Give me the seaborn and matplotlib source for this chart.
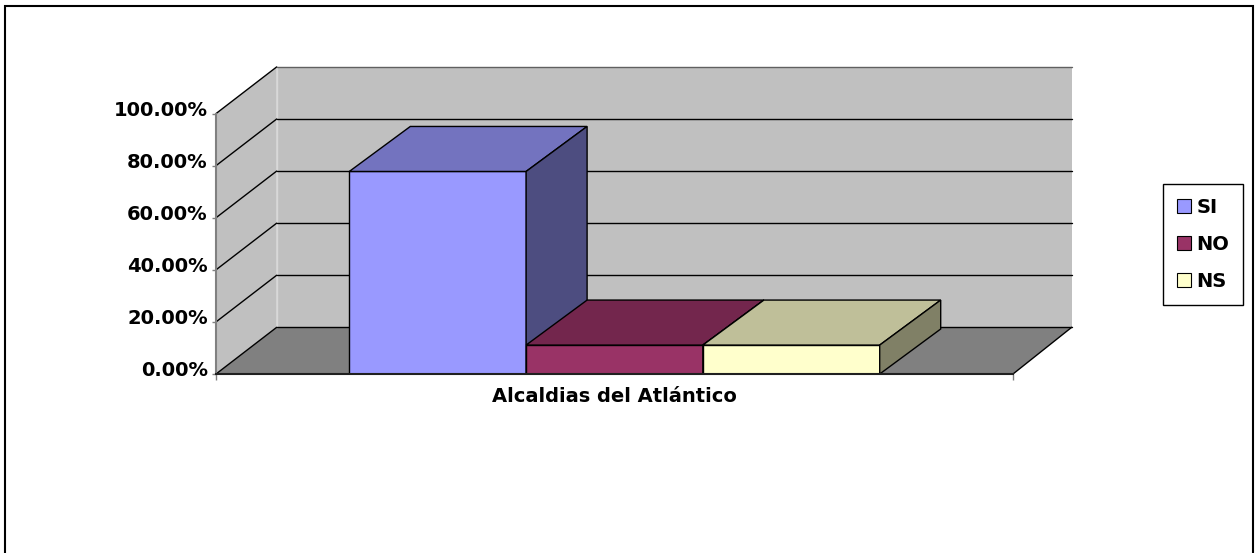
import matplotlib
matplotlib.use("Agg")
import numpy as np
import pandas as pd
import matplotlib.pyplot as plt
import matplotlib.patches as mpatches
from matplotlib.colors import to_rgb
from matplotlib.ticker import FixedLocator, PercentFormatter
from matplotlib.transforms import ScaledTranslation
import seaborn as sns

# ---- data -------------------------------------------------------------
category = ["Alcaldias del Atlántico"]
responses = ["SI", "NO", "NS"]
shares = [0.7778, 0.1111, 0.1111]
y_ticks = [0.0, 0.2, 0.4, 0.6, 0.8, 1.0]

face_colors = ["#9999FF", "#993366", "#FFFFCC"]

# ---- style ------------------------------------------------------------
sns.set_style("white")
plt.rcParams["font.family"] = ["DejaVu Sans"]
plt.rcParams["font.weight"] = "bold"
plt.rcParams["text.color"] = "black"
plt.rcParams["xtick.labelcolor"] = "black"
plt.rcParams["ytick.labelcolor"] = "black"
FS = 14

FIG_W, FIG_H, DPI = 1255, 553, 100
fig = plt.figure(figsize=(FIG_W / DPI, FIG_H / DPI), dpi=DPI)

# front plane of the 3-D box (pixels)
left_px, right_px, base_px, top_px = 216, 1013, 374, 113.6
ax = fig.add_axes([left_px / FIG_W, (FIG_H - base_px) / FIG_H,
                   (right_px - left_px) / FIG_W, (base_px - top_px) / FIG_H])
ax.set_facecolor("none")

df = pd.DataFrame({"cat": category * len(responses), "resp": responses, "val": shares})
sns.barplot(data=df, x="cat", y="val", hue="resp", hue_order=responses,
            palette=face_colors, saturation=1, width=0.6655,
            edgecolor="black", linewidth=1.0, legend=False, ax=ax)

# depth offsets, converted from pixels to data units
px_x = 1.0 / (right_px - left_px)
px_y = 1.0 / (base_px - top_px)
WDXL, WDXR, WDY = 60.7 * px_x, 58.7 * px_x, 46.7 * px_y   # walls and floor
BDX, BDY = 61.0 * px_x, 45.0 * px_y                      # bars
x0, x1 = -0.5, 0.5
bl, br = x0 + WDXL, x1 + WDXR     # back wall left / right edges


def poly(pts, fc, z, ec="none", lw=0.0):
    ax.add_patch(mpatches.Polygon(pts, closed=True, facecolor=fc, edgecolor=ec,
                                  linewidth=lw, zorder=z, clip_on=False,
                                  joinstyle="miter"))


def shade(rgb, k):
    return tuple(c * k for c in rgb)


# walls and floor
poly([(x0, 0), (bl, WDY), (bl, 1 + WDY), (x0, 1)], "#C0C0C0", 0.5)
poly([(bl, WDY), (br, WDY), (br, 1 + WDY), (bl, 1 + WDY)], "#C0C0C0", 0.5)
poly([(x0, 0), (x1, 0), (br, WDY), (bl, WDY)], "#808080", 0.6)
ax.plot([bl, bl], [WDY, 1 + WDY], color="#D8D8D8", lw=1, zorder=0.65, clip_on=False)

# gridlines on the left and back walls
for t in y_ticks:
    col = "#606060" if t == y_ticks[-1] else "black"
    ax.plot([x0, bl], [t, t + WDY], color="black", lw=1, zorder=0.7, clip_on=False)
    ax.plot([bl, br], [t + WDY, t + WDY], color=col, lw=1, zorder=0.7, clip_on=False)
ax.plot([x1, br], [0, WDY], color="black", lw=1, zorder=0.7, clip_on=False)

# top and side faces of each bar
for i, cont in enumerate(ax.containers):
    base = to_rgb(face_colors[i])
    for r in cont:
        bx, bw, bh = r.get_x(), r.get_width(), r.get_height()
        r.set_zorder(2 + i)
        top = [(bx, bh), (bx + bw, bh), (bx + bw + BDX, bh + BDY), (bx + BDX, bh + BDY)]
        side = [(bx + bw, 0), (bx + bw + BDX, BDY), (bx + bw + BDX, bh + BDY), (bx + bw, bh)]
        poly(top, shade(base, 0.75), 2 + i, "black", 1.0)
        poly(side, shade(base, 0.5), 2 + i, "black", 1.0)

# axes
ax.set_xlim(x0, x1)
ax.set_ylim(0, 1)
ax.set_xlabel("")
ax.set_ylabel("")
ax.yaxis.set_major_locator(FixedLocator(y_ticks))
ax.yaxis.set_major_formatter(PercentFormatter(1.0, decimals=2))
ax.set_xticks([0])
ax.set_xticklabels(category)
ax.set_xticks([x0, x1], minor=True)
ax.tick_params(axis="x", which="major", bottom=True, length=0, pad=9.5,
               labelsize=FS, labelcolor="black")
ax.tick_params(axis="x", which="minor", bottom=True, length=4.5, width=1,
               color="#808080", direction="out")
ax.tick_params(axis="y", which="major", left=True, length=3, width=1,
               color="#808080", direction="out", pad=3, labelsize=FS,
               labelcolor="black")
for s in ["top", "right"]:
    ax.spines[s].set_visible(False)
ax.spines["left"].set_color("#808080")
ax.spines["left"].set_linewidth(1.5)
ax.spines["bottom"].set_color("#202020")
ax.spines["bottom"].set_linewidth(1.5)
ax.spines["bottom"].set_zorder(10)

lift = ScaledTranslation(0, 5.5 / DPI, fig.dpi_scale_trans)
for tk in ax.yaxis.get_major_ticks():
    tk.label1.set_transform(tk.label1.get_transform() + lift)

# legend
handles = [mpatches.Patch(facecolor=c, edgecolor="black", linewidth=0.8) for c in face_colors]
leg = fig.legend(handles, responses, loc="upper left",
                 bbox_to_anchor=(1163 / FIG_W, 1 - 184 / FIG_H),
                 frameon=True, fancybox=False, edgecolor="black", framealpha=1,
                 fontsize=FS, handlelength=0.7, handleheight=0.7,
                 handletextpad=0.3, labelspacing=0.92, borderpad=0.72,
                 borderaxespad=0)
leg.get_frame().set_linewidth(1.0)
for txt in leg.get_texts():
    txt.set_color("black")

# chart border
fig.patches.append(mpatches.Rectangle((5 / FIG_W, -10 / FIG_H), 1248 / FIG_W,
                                      (FIG_H - 6 + 10) / FIG_H, transform=fig.transFigure,
                                      fill=False, edgecolor="black", linewidth=1.5))

fig.savefig("out.png", dpi=DPI)
